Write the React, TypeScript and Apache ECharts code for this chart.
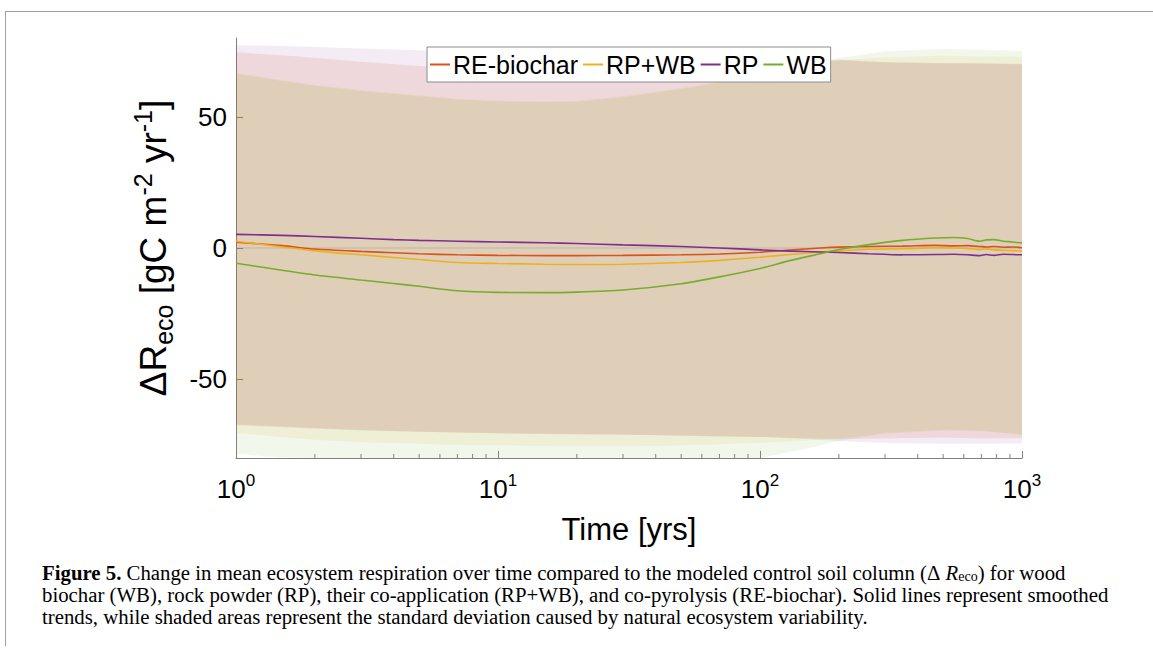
import React, { useEffect, useRef } from "react";
import * as echarts from "echarts";

// ---- Data ----
const seriesNames = ["RE-biochar", "RP+WB", "RP", "WB"];
const seriesColors = ["#D95319", "#EDB120", "#7E2F8E", "#77AC30"];

const lineX = [1, 1.5, 2, 3, 4, 5, 7, 10, 15, 20, 30, 50, 70, 100, 130, 170, 200, 260, 350, 470, 550, 620, 690, 730, 780, 850, 920, 1000];
const reMean = [2.2, 0.9, -0.4, -1.3, -1.8, -2.2, -2.6, -2.8, -2.9, -2.9, -2.8, -2.6, -2.3, -1.6, -0.8, 0.0, 0.35, 0.6, 0.7, 1.0, 0.8, 0.9, 0.6, 0.4, 0.6, 0.3, 0.4, 0.1];
const rpwbMean = [2.6, 0.4, -1.1, -2.6, -3.6, -4.4, -5.5, -5.9, -6.2, -6.3, -6.2, -5.5, -4.7, -3.5, -2.5, -1.5, -1.1, -0.5, -0.3, 0.1, 0.0, -0.2, -0.6, -0.4, -0.7, -0.9, -1.0, -1.2];
const rpMean = [5.2, 4.8, 4.4, 3.7, 3.2, 2.9, 2.6, 2.3, 2.0, 1.7, 1.2, 0.6, 0.0, -0.7, -1.2, -1.5, -1.7, -2.2, -2.6, -2.5, -2.4, -2.6, -2.9, -2.5, -2.8, -2.4, -2.5, -2.6];
const wbMean = [-5.8, -8.5, -10.3, -12.2, -13.5, -14.6, -16.3, -16.9, -17.0, -16.8, -16.0, -13.6, -11.0, -7.8, -4.8, -2.2, -0.6, 1.3, 2.9, 3.8, 4.0, 3.6, 2.6, 3.1, 3.2, 2.6, 2.3, 1.9];

const bandX = [1, 1.5, 2, 3, 5, 7, 10, 15, 20, 30, 50, 70, 100, 150, 200, 300, 500, 700, 1000];
const reUpper = [74.6, 73.4, 72.5, 71.0, 69.3, 68.5, 68.0, 67.7, 67.5, 67.5, 67.8, 68.3, 69.0, 70.3, 71.5, 70.8, 70.3, 70.3, 70.0];
const reLower = [-67.2, -68.0, -68.6, -69.3, -70.0, -70.3, -70.6, -70.8, -70.9, -71.0, -71.4, -71.7, -72.0, -72.5, -72.8, -72.6, -72.2, -72.6, -72.5];
const rpwbUpper = [66.8, 64.0, 62.2, 60.2, 58.2, 57.0, 56.2, 55.9, 56.1, 57.8, 61.0, 63.4, 66.6, 69.8, 71.6, 72.6, 73.2, 73.0, 72.8];
const rpwbLower = [-70.5, -72.0, -73.0, -74.0, -74.6, -75.0, -75.2, -75.4, -75.5, -75.5, -75.2, -74.8, -74.2, -73.4, -72.5, -70.8, -69.5, -69.8, -71.2];
const rpUpper = [77.2, 77.0, 76.6, 76.0, 75.3, 74.8, 74.4, 73.9, 73.5, 73.0, 72.3, 71.9, 71.6, 71.6, 71.8, 70.8, 70.5, 70.4, 70.2];
const rpLower = [-67.5, -68.3, -68.9, -69.5, -70.0, -70.3, -70.6, -70.9, -71.0, -71.1, -71.5, -71.8, -72.0, -72.8, -73.5, -74.3, -74.6, -74.6, -74.5];
const wbUpper = [66.4, 63.6, 61.8, 59.8, 57.8, 56.6, 55.8, 55.5, 55.7, 57.4, 60.6, 63.0, 66.4, 69.6, 72.4, 75.0, 75.8, 75.5, 75.0];
const wbLower = [-78.4, -79.8, -80, -80, -80, -80, -80, -80, -80, -80, -80, -80, -80, -76.5, -73.5, -70.5, -69.2, -69.5, -71.0];

const xTickExponents = ["0", "1", "2", "3"];
const yTickValues = [-50, 0, 50];
const xMinorTicks = [2, 3, 4, 5, 6, 7, 8, 9, 20, 30, 40, 50, 60, 70, 80, 90, 200, 300, 400, 500, 600, 700, 800, 900];
const zeroLine = [[1, 0], [1000, 0]];

const captionLines = [
  "{b|Figure 5.} Change in mean ecosystem respiration over time compared to the modeled control soil column (Δ {i|R}{sub|eco}) for wood",
  "biochar (WB), rock powder (RP), their co-application (RP+WB), and co-pyrolysis (RE-biochar). Solid lines represent smoothed",
  "trends, while shaded areas represent the standard deviation caused by natural ecosystem variability.",
];

const SANS = "'Liberation Sans', Arial, Helvetica, sans-serif";
const SERIF = "'Liberation Serif', 'Times New Roman', serif";

function zip(xs: number[], ys: number[]) {
  return xs.map((x, i) => [x, ys[i]]);
}

function bandSeries(name: string, color: string, xs: number[], lo: number[], hi: number[], alpha: number) {
  return {
    type: "custom",
    name: name + " band",
    silent: true,
    z: 1,
    clip: true,
    data: [[1, 0]],
    renderItem: (_p: any, api: any) => {
      const pts: number[][] = [];
      for (let i = 0; i < xs.length; i++) pts.push(api.coord([xs[i], hi[i]]));
      for (let i = xs.length - 1; i >= 0; i--) pts.push(api.coord([xs[i], lo[i]]));
      return {
        type: "polygon",
        shape: { points: pts },
        style: { fill: color, opacity: alpha },
      };
    },
  };
}

export default function App() {
  const ref = useRef<HTMLDivElement>(null);
  useEffect(() => {
    if (!ref.current) return;
    const chart = echarts.init(ref.current, null, { renderer: "svg" });
    const means = [reMean, rpwbMean, rpMean, wbMean];
    const uppers = [reUpper, rpwbUpper, rpUpper, wbUpper];
    const lowers = [reLower, rpwbLower, rpLower, wbLower];
    const alphas = [0.12, 0.1, 0.09, 0.1];
    const series: any[] = [];
    seriesNames.forEach((n, k) => {
      series.push(bandSeries(n, seriesColors[k], bandX, lowers[k], uppers[k], alphas[k]));
    });
    series.push({
      type: "line",
      name: "zero",
      data: zeroLine,
      silent: true,
      symbol: "none",
      z: 2,
      lineStyle: { color: "rgba(140,140,140,0.4)", width: 1 },
    });
    seriesNames.forEach((n, k) => {
      series.push({
        type: "line",
        name: n,
        data: zip(lineX, means[k]),
        symbol: "none",
        smooth: 0.25,
        z: 3,
        color: seriesColors[k],
        lineStyle: { color: seriesColors[k], width: 1.6 },
      });
    });
    series.push({
      type: "custom",
      name: "minor ticks",
      silent: true,
      z: 4,
      data: xMinorTicks.map((v) => [v, -80]),
      renderItem: (_p: any, api: any) => {
        const pt = api.coord([api.value(0), api.value(1)]);
        return {
          type: "line",
          shape: { x1: pt[0], y1: pt[1], x2: pt[0], y2: pt[1] - 4 },
          style: { stroke: "#808080", lineWidth: 1 },
        };
      },
    });

    const option: any = {
      animation: false,
      backgroundColor: "#ffffff",
      textStyle: { fontFamily: SANS },
      grid: { left: 236, top: 38, width: 786, height: 420, containLabel: false },
      legend: {
        data: seriesNames,
        left: 427,
        top: 47,
        orient: "horizontal",
        icon: "rect",
        itemWidth: 20,
        itemHeight: 2,
        itemGap: 5,
        padding: [5, 4, 5, 3],
        backgroundColor: "#ffffff",
        borderColor: "#8c8c8c",
        borderWidth: 1,
        borderRadius: 0,
        textStyle: { fontSize: 25, color: "#000", fontFamily: SANS, padding: [0, 0, 0, -2] },
      },
      xAxis: {
        type: "log",
        logBase: 10,
        min: 1,
        max: 1000,
        name: "Time [yrs]",
        nameLocation: "middle",
        nameGap: 56,
        nameTextStyle: { fontSize: 31, color: "#000", fontFamily: SANS },
        axisLine: { onZero: false, lineStyle: { color: "#808080", width: 1 } },
        axisTick: { inside: true, length: 7, lineStyle: { color: "#808080" } },
        splitLine: { show: false },
        minorTick: { show: false },
        axisLabel: {
          margin: 14,
          formatter: (_v: number, i: number) => `{b|10}{s|${xTickExponents[i] ?? ""}}`,
          rich: {
            b: { fontSize: 26, color: "#000", fontFamily: SANS, lineHeight: 30, verticalAlign: "bottom" },
            s: { fontSize: 17, color: "#000", fontFamily: SANS, lineHeight: 17, verticalAlign: "top" },
          },
        },
      },
      yAxis: {
        type: "value",
        min: -80,
        max: 80,
        name: "{n|ΔR}{sub|eco}{n| [gC m}{sup|-2}{n| yr}{sup|-1}{n|]}",
        nameLocation: "middle",
        nameGap: 60,
        nameTextStyle: {
          rich: {
            n: { fontSize: 37, color: "#000", fontFamily: SANS, lineHeight: 46, verticalAlign: "middle" },
            sub: { fontSize: 25, color: "#000", fontFamily: SANS, lineHeight: 25, verticalAlign: "bottom" },
            sup: { fontSize: 25, color: "#000", fontFamily: SANS, lineHeight: 25, verticalAlign: "top" },
          },
        },
        axisLine: { show: true, onZero: false, lineStyle: { color: "#808080", width: 1 } },
        axisTick: { show: true, inside: true, length: 7, customValues: yTickValues, lineStyle: { color: "#808080" } },
        axisLabel: { customValues: yTickValues, fontSize: 26, color: "#000", margin: 9, fontFamily: SANS },
        splitLine: { show: false },
      },
      graphic: [
        { type: "line", shape: { x1: 5, y1: 11.5, x2: 1153, y2: 11.5 }, style: { stroke: "#a0a0a0", lineWidth: 1 } },
        { type: "line", shape: { x1: 5.5, y1: 11, x2: 5.5, y2: 646 }, style: { stroke: "#a0a0a0", lineWidth: 1 } },
        ...captionLines.map((t, i) => ({
          type: "text",
          left: 42,
          top: 561 + i * 22,
          style: {
            text: t,
            font: `20.8px ${SERIF}`,
            fill: "#000",
            lineHeight: 22,
            rich: {
              b: { fontWeight: "bold", fontSize: 20.8, fontFamily: SERIF, fill: "#000", lineHeight: 22 },
              i: { fontStyle: "italic", fontSize: 20.8, fontFamily: SERIF, fill: "#000", lineHeight: 22, verticalAlign: "middle" },
              sub: { fontSize: 14, fontFamily: SERIF, fill: "#000", lineHeight: 10, verticalAlign: "bottom" },
            },
          },
        })),
      ],
      series,
    };
    chart.setOption(option);
    return () => chart.dispose();
  }, []);
  return (
    <div
      ref={ref}
      style={{ position: "absolute", left: 0, top: 0, width: 1153, height: 657, background: "#fff" }}
    />
  );
}
